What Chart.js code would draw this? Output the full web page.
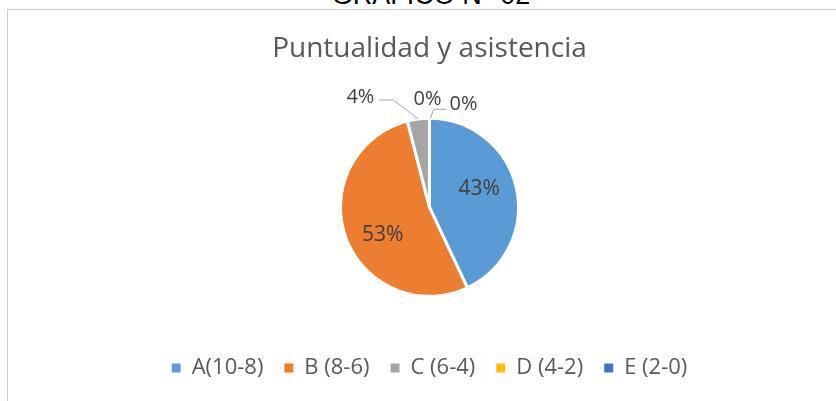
<!DOCTYPE html>
<html>
<head>
<meta charset="utf-8">
<script src="https://cdn.jsdelivr.net/npm/chart.js@4.4.1/dist/chart.umd.min.js"></script>
<style>
  html, body { margin: 0; padding: 0; background: #fff; overflow: hidden; }
  #page { position: relative; width: 836px; height: 401px; overflow: hidden; }
  #heading { position: absolute; left: 281px; width: 300px; top: -18px; text-align: center;
             font: 27px/27px "Liberation Sans", Arial, sans-serif; color: #000; white-space: nowrap; }
  #frame { position: absolute; left: 7px; top: 9px; width: 900px; height: 500px;
           border: 1px solid #cfcfcf; }
  #chart { position: absolute; left: 0; top: 0; }
</style>
</head>
<body>
<div id="page">
  <div id="heading">GRÁFICO N° 02</div>
  <div id="frame"></div>
  <canvas id="chart" width="836" height="401"></canvas>
</div>
<script>
// =========================
// 1. DATA
// =========================
const categories = ["A(10-8)", "B (8-6)", "C (6-4)", "D (4-2)", "E (2-0)"];
const percentages = [43, 53, 4, 0, 0];
const sliceColors = ["#5B9BD5", "#ED7D31", "#A5A5A5", "#FFC000", "#4472C4"];
const chartTitle = "Puntualidad y asistencia";

// Outside label placement for the thin slices (offsets from the arc edge point)
const outsideLabels = {
    2: { elbow: [-25, -19], end: [-39, -19], text: [-44, -22], align: "right" },
    3: { text: [-2, -19], align: "center" },
    4: { start: [1, 0], elbow: [4, -9], end: [17, -9], text: [20, -14], align: "left" }
};

// =========================
// 2. DATA LABEL PLUGIN
// =========================
const pieLabels = {
    id: "pieLabels",
    afterDatasetsDraw(chart) {
        const ctx = chart.ctx;
        const meta = chart.getDatasetMeta(0);
        ctx.save();
        ctx.fillStyle = "#404040";
        ctx.textBaseline = "middle";
        meta.data.forEach((arc, i) => {
            const p = arc.getProps(["x", "y", "startAngle", "endAngle", "outerRadius"], true);
            const mid = (p.startAngle + p.endAngle) / 2;
            const label = percentages[i] + "%";
            const spec = outsideLabels[i];
            if (!spec) {
                // inside label, nudged counter-clockwise like the original
                const a = mid - 0.16;
                const r = p.outerRadius * 0.6;
                ctx.font = '21px "Open Sans"';
                ctx.textAlign = "center";
                ctx.fillText(label, p.x + Math.cos(a) * r, p.y + Math.sin(a) * r + 2);
                return;
            }
            const ex = p.x + Math.cos(mid) * p.outerRadius;
            const ey = p.y + Math.sin(mid) * p.outerRadius;
            if (spec.elbow) {
                const s = spec.start || [0, 0];
                ctx.beginPath();
                ctx.strokeStyle = "#A6A6A6";
                ctx.lineWidth = 1;
                ctx.moveTo(ex + s[0], ey + s[1]);
                ctx.lineTo(ex + spec.elbow[0], ey + spec.elbow[1]);
                ctx.lineTo(ex + spec.end[0], ey + spec.end[1]);
                ctx.stroke();
            }
            ctx.font = '20px "Open Sans"';
            ctx.textAlign = spec.align;
            ctx.fillText(label, ex + spec.text[0], ey + spec.text[1]);
        });
        ctx.restore();
    }
};

// =========================
// 3. CHART
// =========================
function drawChart() {
    const baseLabels = Chart.overrides.pie.plugins.legend.labels.generateLabels;
    new Chart(document.getElementById("chart"), {
        type: "pie",
        data: {
            labels: categories,
            datasets: [{
                data: percentages,
                backgroundColor: sliceColors,
                borderColor: "#ffffff",
                borderWidth: 3,
                radius: 89
            }]
        },
        options: {
            responsive: false,
            animation: false,
            layout: { padding: { left: 23, right: 0, top: 0, bottom: 12 } },
            plugins: {
                tooltip: { enabled: false },
                title: {
                    display: true,
                    text: chartTitle,
                    color: "#595959",
                    font: { family: "Open Sans", size: 28, weight: "normal" },
                    padding: { top: 32, bottom: 13 }
                },
                legend: {
                    position: "bottom",
                    labels: {
                        color: "#595959",
                        font: { family: "Open Sans", size: 22 },
                        boxWidth: 9,
                        boxHeight: 9,
                        padding: 21,
                        generateLabels(chart) {
                            return baseLabels(chart).map(item => Object.assign(item, { lineWidth: 0 }));
                        }
                    }
                }
            }
        },
        plugins: [pieLabels]
    });
}

document.fonts.load('22px "Open Sans"').then(drawChart, drawChart);
</script>
</body>
</html>
